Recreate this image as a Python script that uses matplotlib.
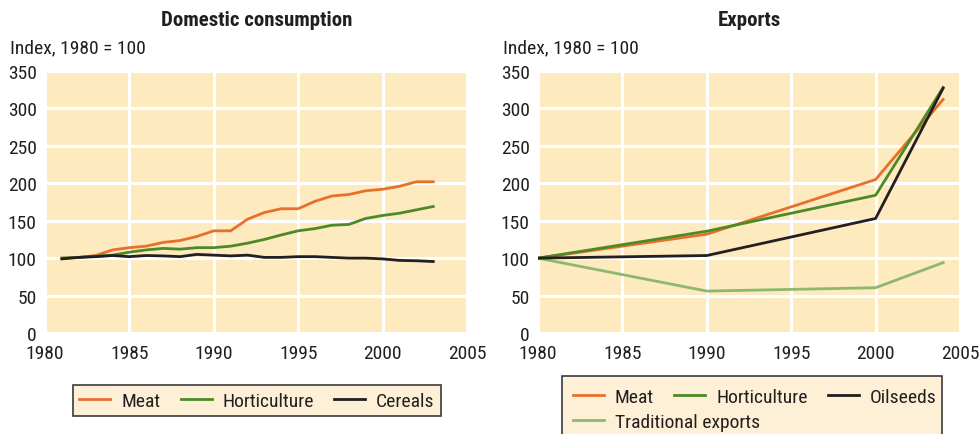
import matplotlib
matplotlib.use("Agg")
import matplotlib.pyplot as plt
from matplotlib import font_manager
from matplotlib.patches import Rectangle

# ---- data ----
dom_years = list(range(1981, 2004))
dom_meat = [100, 101, 103.5, 111, 114, 116, 121, 123.5, 129, 136.5, 136.5, 152, 161, 166, 166,
            176, 183, 185, 190, 192, 196, 202, 202]
dom_horti = [100, 101, 102.5, 104, 108, 111, 113, 112, 114, 114, 116, 120, 125, 131, 136.5,
             139.5, 144, 145, 153, 157, 160, 164.5, 169]
dom_cereals = [99, 101, 102, 103.5, 102, 103.5, 103, 102, 105, 104, 103, 104, 101, 101, 102,
               102, 101, 100, 100, 99, 97, 96.5, 95.5]

exp_years = [1980, 1990, 2000, 2004]
exp_meat = [100, 132, 205, 312]
exp_horti = [100, 136, 184, 328]
exp_oilseeds = [100, 103.5, 153, 327]
exp_trad = [100, 56, 60.5, 94]

x_ticks = [1980, 1985, 1990, 1995, 2000, 2005]
y_ticks = [0, 50, 100, 150, 200, 250, 300, 350]


# ---- font: prefer a condensed sans ----
def pick_font():
    fl = font_manager.fontManager.ttflist
    names = {f.name for f in fl}
    for n in ["Liberation Sans Narrow", "Roboto Condensed", "Open Sans Condensed",
              "Noto Sans Condensed", "DejaVu Sans Condensed"]:
        if n in names:
            return n, "normal"
    for fam in ["Roboto", "Noto Sans", "Open Sans", "DejaVu Sans", "Lato", "Inter"]:
        if any(f.name == fam and str(f.stretch) == "condensed" for f in fl):
            return fam, "condensed"
    for f in fl:
        if "Condensed" in f.name or "Narrow" in f.name:
            return f.name, "normal"
    return "Liberation Sans", "normal"


FONT, STRETCH = pick_font()
plt.rcParams["font.family"] = [FONT, "DejaVu Sans"]
plt.rcParams["font.stretch"] = STRETCH

TXT = "#231f20"
BG = "#fdeabf"
LEGBG = "#fdf0d6"
ORANGE = "#e8702a"
GREEN = "#4d8a26"
BLACK = "#231f20"
LGREEN = "#8cb872"
FS = 14
LW = 2.0

fig = plt.figure(figsize=(9.8, 4.35), dpi=100)
ax1 = fig.add_axes([45 / 980, 1 - 334 / 435, 422 / 980, 262 / 435])
ax2 = fig.add_axes([538 / 980, 1 - 334 / 435, 422 / 980, 262 / 435])

for ax in (ax1, ax2):
    ax.set_facecolor(BG)
    ax.set_xlim(1980, 2005)
    ax.set_ylim(0, 350)
    ax.set_xticks(x_ticks)
    ax.set_yticks(y_ticks)
    ax.tick_params(length=0, labelsize=FS, colors=TXT)
    ax.tick_params(axis="y", pad=6)
    ax.tick_params(axis="x", pad=8)
    for s in ax.spines.values():
        s.set_visible(False)
    ax.grid(True, color="white", linewidth=2.2)
    ax.set_axisbelow(True)

l1, = ax1.plot(dom_years, dom_meat, color=ORANGE, lw=LW, label="Meat")
l2, = ax1.plot(dom_years, dom_horti, color=GREEN, lw=LW, label="Horticulture")
l3, = ax1.plot(dom_years, dom_cereals, color=BLACK, lw=LW, label="Cereals")

r4, = ax2.plot(exp_years, exp_trad, color=LGREEN, lw=LW, label="Traditional exports")
r1, = ax2.plot(exp_years, exp_meat, color=ORANGE, lw=LW, label="Meat")
r2, = ax2.plot(exp_years, exp_horti, color=GREEN, lw=LW, label="Horticulture")
r3, = ax2.plot(exp_years, exp_oilseeds, color=BLACK, lw=LW, label="Oilseeds")

fig.text(257 / 980, 1 - 20 / 435, "Domestic consumption", ha="center", va="center",
         fontsize=FS + 1, fontweight="bold", color=TXT)
fig.text(749 / 980, 1 - 20 / 435, "Exports", ha="center", va="center",
         fontsize=FS + 1, fontweight="bold", color=TXT)
fig.text(10 / 980, 1 - 48 / 435, "Index, 1980 = 100", ha="left", va="center",
         fontsize=FS, color=TXT)
fig.text(503 / 980, 1 - 48 / 435, "Index, 1980 = 100", ha="left", va="center",
         fontsize=FS, color=TXT)

leg_kw = dict(fontsize=FS, handlelength=1.6, handletextpad=0.55, columnspacing=1.05,
              labelcolor=TXT)

# left legend (framed)
lg1 = fig.legend([l1, l2, l3], ["Meat", "Horticulture", "Cereals"], ncol=3,
                 loc="upper center", bbox_to_anchor=(257 / 980, 1 - 376 / 435),
                 frameon=True, fancybox=False, facecolor=LEGBG, edgecolor="#3a3a3a",
                 framealpha=1, borderpad=0.35, **leg_kw)
lg1.get_frame().set_linewidth(1.2)

# right legend: frame drawn separately, two rows of entries
fig.patches.append(Rectangle((562 / 980, -0.05), (942 - 562) / 980, 0.05 + 1 - 377 / 435,
                             transform=fig.transFigure, facecolor=LEGBG,
                             edgecolor="#3a3a3a", linewidth=1.2, zorder=1))
lg2 = fig.legend([r1, r2, r3], ["Meat", "Horticulture", "Oilseeds"], ncol=3,
                 loc="center left", bbox_to_anchor=(573 / 980, 1 - 398 / 435),
                 frameon=False, borderpad=0, borderaxespad=0, **leg_kw)
lg3 = fig.legend([r4], ["Traditional exports"], ncol=1,
                 loc="center left", bbox_to_anchor=(573 / 980, 1 - 423 / 435),
                 frameon=False, borderpad=0, borderaxespad=0, **leg_kw)
lg2.set_zorder(3)
lg3.set_zorder(3)

fig.savefig("out.png", dpi=100)
